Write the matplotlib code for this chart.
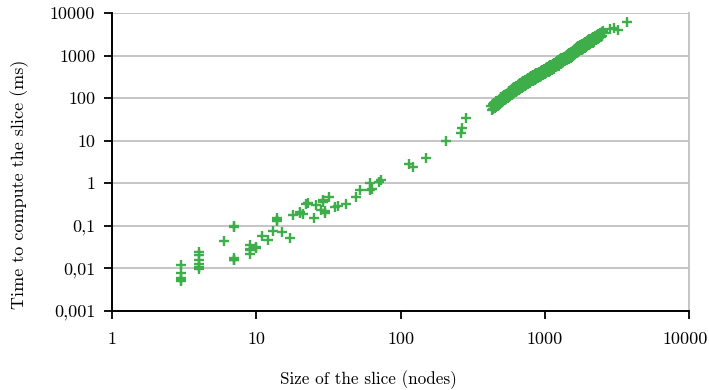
import matplotlib
matplotlib.use('Agg')
import matplotlib.pyplot as plt
from matplotlib.ticker import FixedLocator, FixedFormatter, NullLocator
from matplotlib.transforms import ScaledTranslation

# small slices
small_size = [3, 3, 3, 3, 3,
              4, 4, 4, 4, 4, 4,
              6, 7, 7, 7, 7, 7,
              9, 9, 9, 9, 10, 10, 11, 12, 13, 14, 14, 14, 15, 17, 18,
              20, 20, 21, 22, 23, 25, 26, 28, 29, 29, 30, 30, 32, 35, 37, 42,
              49, 52, 61, 61, 63, 71, 73, 115, 121, 150, 206, 262, 265, 282]
small_time = [0.012, 0.008, 0.0058, 0.005, 0.0053,
              0.024, 0.021, 0.0155, 0.013, 0.011, 0.0098,
              0.044, 0.1, 0.095, 0.018, 0.0155, 0.016,
              0.035, 0.029, 0.027, 0.022, 0.032, 0.030, 0.057, 0.046, 0.077, 0.14, 0.13, 0.15, 0.072, 0.052, 0.18,
              0.2, 0.21, 0.19, 0.33, 0.35, 0.153, 0.31, 0.24, 0.41, 0.36, 0.22, 0.2, 0.48, 0.28, 0.30, 0.33,
              0.48, 0.685, 1.0, 0.68, 0.75, 1.07, 1.18, 2.8, 2.4, 3.93, 9.85, 15.5, 20.3, 35]

# dense band of large slices
band_size = [425, 430, 436, 440, 445, 450, 455, 458, 462, 466, 470, 474, 478, 482, 486, 490, 494, 497, 500, 503,
             508, 512, 516, 520, 524, 528, 532, 536, 540, 544, 548, 552, 556, 560, 564, 568, 572, 576, 580, 585, 590, 595, 600,
             605, 610, 615, 620, 625, 630, 635, 640, 645, 650, 655, 660, 665, 670, 675, 680, 685, 690, 695, 700,
             705, 710, 715, 720, 725, 730, 735, 740, 745, 750, 755, 760, 765, 770, 775, 780, 785, 790, 795, 800,
             808, 815, 822, 830, 838, 845, 852, 860, 868, 875, 882, 890, 898, 905, 912, 920, 928, 935, 943, 950, 958, 965, 972, 980, 988, 995,
             1005, 1012, 1020, 1030, 1040, 1050, 1060, 1070, 1080, 1090, 1100, 1110, 1120, 1130, 1140, 1150, 1160, 1170, 1180, 1190, 1200,
             1210, 1225, 1240, 1255, 1270, 1285, 1300, 1315, 1330, 1345, 1360, 1375, 1390, 1405, 1420, 1435, 1450, 1465, 1480, 1495,
             1510, 1525, 1540, 1555, 1570, 1585, 1600, 1615, 1630, 1645, 1660, 1675, 1690, 1705, 1720, 1735, 1750, 1765, 1780, 1795,
             1810, 1830, 1850, 1870, 1890, 1910, 1930, 1950, 1970, 1990, 2010, 2030, 2050, 2070, 2090,
             2110, 2140, 2170, 2200, 2230, 2260, 2290, 2320, 2350, 2380, 2410, 2440, 2470, 2500, 2540, 2580,
             2850, 3000, 3200, 3720]
band_time = [64, 52, 71, 56, 76, 58, 80, 61, 84, 65, 88, 66, 92, 70, 96, 74, 100, 76, 104, 80,
             82, 112, 86, 116, 89, 120, 92, 125, 96, 128, 100, 134, 103, 139, 107, 145, 111, 150, 116, 157, 120, 164, 126,
             170, 131, 178, 136, 185, 141, 192, 147, 198, 153, 206, 158, 213, 164, 221, 170, 230, 176, 238, 182,
             186, 250, 192, 257, 197, 265, 203, 273, 208, 281, 214, 288, 220, 297, 226, 305, 233, 314, 240, 323,
             247, 334, 256, 345, 265, 358, 274, 370, 283, 383, 292, 396, 303, 408, 312, 422, 322, 436, 333, 450, 344, 463, 354, 478, 366, 494,
             378, 510, 390, 530, 405, 550, 420, 572, 437, 592, 452, 615, 470, 638, 483, 660, 497, 680, 530, 710, 540,
             730, 565, 775, 583, 815, 630, 860, 665, 900, 700, 945, 735, 990, 770, 1040, 806, 1090, 842, 1140, 870,
             900, 1215, 945, 1285, 995, 1350, 1048, 1415, 1100, 1490, 1155, 1565, 1212, 1640, 1270, 1720, 1330, 1800, 1395, 1880,
             1380, 1880, 1450, 2010, 1520, 2110, 1600, 2210, 1680, 2320, 1760, 2420, 1840, 2520, 1930,
             2580, 1990, 2720, 2140, 2900, 2280, 3080, 2420, 3250, 2580, 3400, 2720, 3550, 2900, 3700, 3350,
             4150, 4450, 4100, 6300]

y_ticks = [0.001, 0.01, 0.1, 1, 10, 100, 1000, 10000]
y_labels = ['0,001', '0,01', '0,1', '1', '10', '100', '1000', '10000']
x_ticks = [1, 10, 100, 1000, 10000]
x_labels = ['1', '10', '100', '1000', '10000']

plt.rcParams['font.family'] = ['cmr10', 'DejaVu Serif']
plt.rcParams['font.size'] = 13

fig = plt.figure(figsize=(7.09, 3.9), dpi=100)
ax = fig.add_axes([0.158, 0.2026, 0.814, 0.764])

green = '#3DAE49'
ax.plot(small_size + band_size, small_time + band_time, linestyle='none',
        marker='+', markersize=7, markeredgewidth=1.7, color=green)

ax.set_xscale('log')
ax.set_yscale('log')
ax.set_xlim(1, 10000)
ax.set_ylim(0.001, 10000)

ax.xaxis.set_major_locator(FixedLocator(x_ticks))
ax.xaxis.set_major_formatter(FixedFormatter(x_labels))
ax.yaxis.set_major_locator(FixedLocator(y_ticks))
ax.yaxis.set_major_formatter(FixedFormatter(y_labels))
ax.xaxis.set_minor_locator(NullLocator())
ax.yaxis.set_minor_locator(NullLocator())

ax.grid(axis='y', color='#c0c0c0', linewidth=1.3)
ax.set_axisbelow(True)

for s in ['left', 'bottom']:
    ax.spines[s].set_color('black')
    ax.spines[s].set_linewidth(1.4)
ax.spines['right'].set_color('#c0c0c0')
ax.spines['right'].set_linewidth(1.3)
ax.spines['top'].set_visible(False)

ax.tick_params(axis='both', which='major', direction='out', length=6, width=1.3, color='black')
ax.tick_params(axis='y', pad=6)
ax.tick_params(axis='x', pad=9)

ax.set_xlabel('Size of the slice (nodes)', fontsize=12.3)
ax.xaxis.label.set_va('center')
ax.xaxis.set_label_coords(0.4437, -0.2315)
ax.set_ylabel('Time to compute the slice (ms)')
ax.yaxis.label.set_va('center')
ax.yaxis.set_label_coords(-0.1594, 0.426)

# the last x label sits a little left so it fits in the picture
fig.canvas.draw()
last = ax.xaxis.get_major_ticks()[-1].label1
last.set_transform(last.get_transform() + ScaledTranslation(-3 / 72, 0, fig.dpi_scale_trans))

fig.savefig('out.png', dpi=100)
